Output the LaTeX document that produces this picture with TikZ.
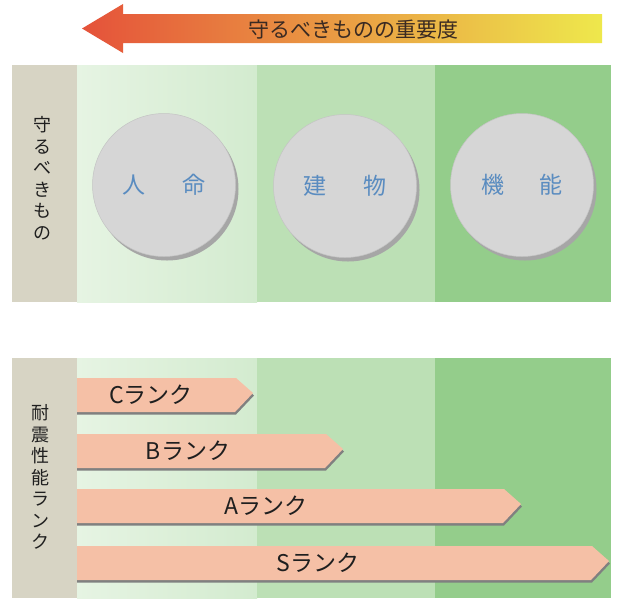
\documentclass[tikz,border=0pt]{standalone}
\usepackage{fontspec}
\newfontfamily\jp{Noto Sans CJK JP}
\usetikzlibrary{shapes.geometric}
\definecolor{beige}{HTML}{D7D4C4}
\definecolor{gA}{HTML}{E6F4E3}
\definecolor{gB}{HTML}{D3EBCF}
\definecolor{gtwo}{HTML}{BCE0B5}
\definecolor{gthree}{HTML}{94CD8B}
\definecolor{discgray}{HTML}{D6D6D6}
\definecolor{discedge}{HTML}{C4C4C4}
\definecolor{discshadow}{HTML}{A6A6A6}
\definecolor{discblue}{HTML}{5A8CC0}
\definecolor{barpink}{HTML}{F5C0A6}
\definecolor{barshadow}{HTML}{808080}
\definecolor{arrred}{HTML}{E5523A}
\definecolor{arrorange}{HTML}{EE8C46}
\definecolor{arryellow}{HTML}{EEE84C}
\definecolor{titletext}{HTML}{3A2A22}
\tikzset{
  disc/.style={circle, minimum size=143pt, inner sep=0pt, fill=discgray, draw=discedge, line width=0.5pt,
    font=\jp\fontsize{23}{23}\selectfont, text=discblue},
  ranktext/.style={font=\jp\fontsize{23}{23}\selectfont, text=black!88, inner sep=0pt},
  vlabel/.style={align=center, font=\jp\fontsize{18}{21.5}\selectfont, text=black!88, inner sep=0pt},
  barfill/.style={fill=barpink},
  barshade/.style={fill=barshadow}
}
\begin{document}
\begin{tikzpicture}[x=1pt,y=-1pt]
\useasboundingbox (0,0) rectangle (617,600);
\fill[white] (0,0) rectangle (617,600);
% top arrow
\shade[left color=arrred, middle color=arrorange, right color=arryellow]
  (82,28.5) -- (123,4) -- (123,14) -- (602,14) -- (602,43) -- (123,43) -- (123,53) -- cycle;
\node[font=\jp\fontsize{21}{21}\selectfont, text=titletext, inner sep=0pt] (title) at (353,30) {守るべきものの重要度};
% panels
\foreach \ya/\yb in {65/302, 358/598}{
  \fill[beige] (12,\ya) rectangle (77,\yb);
  \shade[left color=gA, right color=gB] (77,\ya) rectangle (257,\yb);
  \fill[gtwo] (257,\ya) rectangle (435,\yb);
  \fill[gthree] (435,\ya) rectangle (611,\yb);
}
% vertical labels
\node[vlabel] (protlabel) at (42,178) {守\\る\\べ\\き\\も\\の};
\node[vlabel] (ranklabel) at (40,477) {耐\\震\\性\\能\\ラ\\ン\\ク};
% discs
\coordinate (c1) at (164,185);
\coordinate (c2) at (345,186);
\coordinate (c3) at (522,185);
\foreach \c in {c1,c2,c3}{
  \fill[discshadow] ([shift={(3,4)}]\c) circle (71.5pt);
}
\node[disc] (jinmei) at (c1) {人\hspace{37pt}命};
\node[disc] (tatemono) at (c2) {建\hspace{37pt}物};
\node[disc] (kinou) at (c3) {機\hspace{35pt}能};
% rank bars
% C
\fill[barshade] (77,380.5) -- (237,380.5) -- (254,395.5) -- (236,414.5) -- (77,414.5) -- cycle;
\fill[barfill] (77,378) -- (236,378) -- (253,393) -- (235,412) -- (77,412) -- cycle;
\node[ranktext] (crank) at (151,395) {Cランク};
% B
\fill[barshade] (77,436.5) -- (327,436.5) -- (344,451.5) -- (326,470.5) -- (77,470.5) -- cycle;
\fill[barfill] (77,434) -- (326,434) -- (343,449) -- (325,468) -- (77,468) -- cycle;
\node[ranktext] (brank) at (188,451) {Bランク};
% A
\fill[barshade] (77,491.5) -- (505,491.5) -- (522,506.5) -- (504,525.5) -- (77,525.5) -- cycle;
\fill[barfill] (77,489) -- (504,489) -- (521,504) -- (503,523) -- (77,523) -- cycle;
\node[ranktext] (arank) at (266,506) {Aランク};
% S
\fill[barshade] (77,548.5) -- (593,548.5) -- (610,563.5) -- (592,582.5) -- (77,582.5) -- cycle;
\fill[barfill] (77,546) -- (592,546) -- (609,561) -- (591,580) -- (77,580) -- cycle;
\node[ranktext] (srank) at (318,563) {Sランク};
\end{tikzpicture}
\end{document}
